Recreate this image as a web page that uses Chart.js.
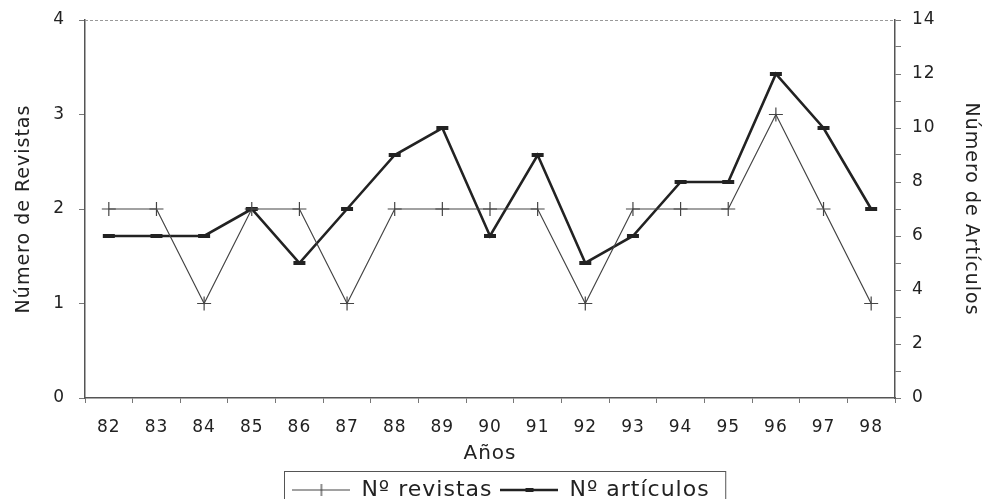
<!DOCTYPE html>
<html>
<head>
<meta charset="utf-8">
<script src="https://cdn.jsdelivr.net/npm/chart.js@4.4.0/dist/chart.umd.min.js"></script>
<style>
  html, body { margin: 0; padding: 0; background: #fff; }
  #wrap { width: 982px; height: 499px; }
</style>
</head>
<body>
<div id="wrap"><canvas id="chart"></canvas></div>
<script>
const years = ["82","83","84","85","86","87","88","89","90","91","92","93","94","95","96","97","98"]
const revistas = [2, 2, 1, 2, 2, 1, 2, 2, 2, 2, 1, 2, 2, 2, 3, 2, 1]
const articulos = [6, 6, 6, 7, 5, 7, 9, 10, 6, 9, 5, 6, 8, 8, 12, 10, 7]
const leftTicks = [0, 1, 2, 3, 4]
const rightTicks = [0, 2, 4, 6, 8, 10, 12, 14]

const legendShift = 10

// little pictures for the legend: line with its marker in the middle
function legendIcon(width, lineW, color, marker) {
  const c = document.createElement("canvas")
  c.width = 58
  c.height = 16
  const g = c.getContext("2d")
  g.strokeStyle = color
  g.lineWidth = lineW
  g.beginPath()
  g.moveTo(0, 8)
  g.lineTo(58, 8)
  g.stroke()
  g.lineWidth = width
  g.beginPath()
  if (marker == "cross") {
    g.moveTo(29, 2)
    g.lineTo(29, 14)
  } else {
    g.moveTo(25, 8)
    g.lineTo(33, 8)
  }
  g.stroke()
  return c
}

const iconRev = legendIcon(1.2, 1.2, "#444", "cross")
const iconArt = legendIcon(4, 2.4, "#222", "line")

const frame = {
  id: "frame",
  // the original text is wide, Verdana-like
  beforeLayout(chart) {
    chart.ctx.letterSpacing = "1px"
  },
  beforeDraw(chart) {
    chart.ctx.letterSpacing = "1px"
    // legend sits a little right of centre in the original
    chart.legend.left += legendShift
    chart.legend.right += legendShift
  },
  afterDraw(chart) {
    const ctx = chart.ctx
    const a = chart.chartArea
    ctx.save()
    // dotted top edge
    ctx.strokeStyle = "#999"
    ctx.lineWidth = 1
    ctx.setLineDash([3, 2])
    ctx.beginPath()
    ctx.moveTo(a.left, a.top + 0.5)
    ctx.lineTo(a.right, a.top + 0.5)
    ctx.stroke()
    ctx.setLineDash([])
    // box round the legend (hit boxes keep their fitted place, so add the shift)
    const boxes = chart.legend.legendHitBoxes
    if (boxes.length) {
      const l = Math.min(...boxes.map(b => b.left)) - 8 + legendShift
      const r = Math.max(...boxes.map(b => b.left + b.width)) + 16 + legendShift
      const t = chart.legend.top
      ctx.strokeStyle = "#555"
      ctx.lineWidth = 1
      ctx.strokeRect(Math.round(l) + 0.5, Math.round(t) + 0.5, r - l, 40)
    }
    ctx.restore()
  }
}

const noOverflow = (s) => { s.paddingTop = 0; s.paddingBottom = 0 }

const ctx = document.getElementById("chart").getContext("2d")

new Chart(ctx, {
  type: "line",
  data: {
    labels: years,
    datasets: [
      {
        label: "Nº revistas",
        data: revistas,
        yAxisID: "y",
        borderColor: "#444",
        borderWidth: 1.2,
        pointStyle: "cross",
        pointRadius: 7,
        pointBorderWidth: 1.2,
        pointBorderColor: "#444",
        tension: 0,
      },
      {
        label: "Nº artículos",
        data: articulos,
        yAxisID: "y1",
        borderColor: "#222",
        borderWidth: 2.6,
        pointStyle: "line",
        pointRadius: 6,
        pointBorderWidth: 4,
        pointBorderColor: "#222",
        tension: 0,
      },
    ],
  },
  options: {
    responsive: true,
    maintainAspectRatio: false,
    animation: false,
    layout: { padding: { top: 20, left: 0, right: 0, bottom: -12 } },
    plugins: {
      tooltip: { enabled: false },
      legend: {
        position: "bottom",
        labels: {
          usePointStyle: true,
          pointStyleWidth: 58,
          boxHeight: 16,
          padding: 8,
          color: "#222",
          font: { family: "DejaVu Sans", size: 22 },
          generateLabels: (chart) => [
            { text: "Nº revistas", pointStyle: iconRev, datasetIndex: 0, fontColor: "#222", lineWidth: 0 },
            { text: "Nº artículos", pointStyle: iconArt, datasetIndex: 1, fontColor: "#222", lineWidth: 0 },
          ],
        },
      },
    },
    scales: {
      x: {
        offset: true,
        grid: { display: true, offset: true, drawOnChartArea: false, drawTicks: true, tickLength: 5, color: "#777" },
        border: { display: true, color: "#555", width: 1.5 },
        ticks: { color: "#222", font: { family: "DejaVu Sans", size: 17 }, padding: 14, maxRotation: 0, autoSkip: false },
        title: { display: true, text: "Años", color: "#222", font: { family: "DejaVu Sans", size: 20 }, padding: { top: 2, bottom: 5 } },
        afterFit: (s) => { s.height = 73 },
      },
      y: {
        position: "left",
        min: 0,
        max: 4,
        afterBuildTicks: (s) => { s.ticks = leftTicks.map(v => ({ value: v })) },
        grid: { drawOnChartArea: false, drawTicks: true, tickLength: 6, color: "#777" },
        border: { display: true, color: "#555", width: 1.5 },
        ticks: { color: "#222", font: { family: "DejaVu Sans", size: 17 }, padding: 14 },
        title: { display: true, text: "Número de Revistas", color: "#222", font: { family: "DejaVu Sans", size: 19 }, padding: { top: 13, bottom: 0 } },
        afterFit: (s) => { s.width = 85; noOverflow(s) },
      },
      y1: {
        position: "right",
        min: 0,
        max: 14,
        ticks: {
          stepSize: 1,
          color: "#222",
          font: { family: "DejaVu Sans", size: 17 },
          padding: 11,
          callback: (v) => rightTicks.includes(v) ? v : "",
        },
        grid: { drawOnChartArea: false, drawTicks: true, tickLength: 6, color: "#777" },
        border: { display: true, color: "#555", width: 1.5 },
        title: { display: true, text: "Número de Artículos", color: "#222", font: { family: "DejaVu Sans", size: 19 }, padding: { top: 0, bottom: 2 } },
        afterFit: (s) => { s.width = 87; noOverflow(s) },
      },
    },
  },
  plugins: [frame],
})
</script>
</body>
</html>
